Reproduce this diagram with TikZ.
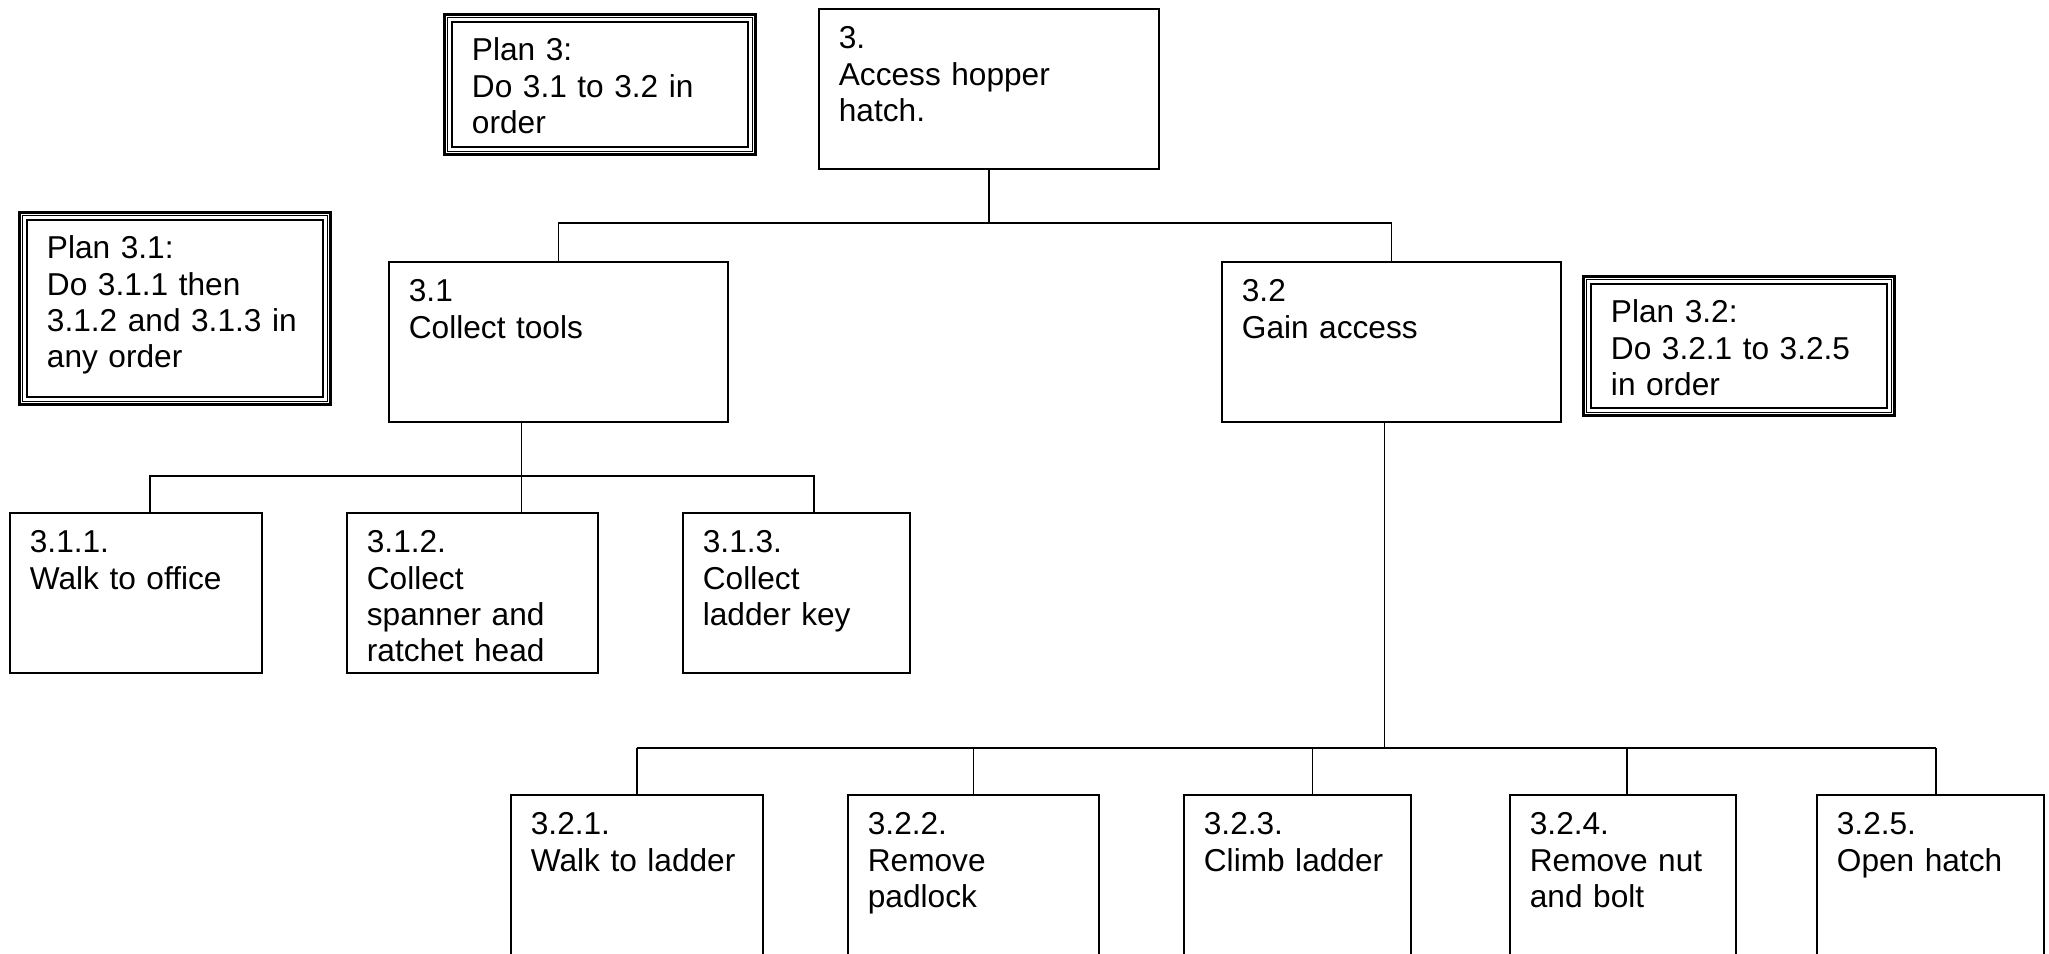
\documentclass[tikz,border=0pt]{standalone}
\usepackage{fontspec}
\setmainfont{Liberation Sans}
\usepackage{tikz}
\usetikzlibrary{calc, positioning}

\begin{document}
\begin{tikzpicture}[
    every node/.style={font=\fontsize{9pt}{10.3pt}\selectfont},
    task/.style={draw, line width=0.5pt, anchor=north west, inner sep=0pt, inner xsep=0.20cm,
      align=left, text height=0.40cm, text depth=1.20cm},
    plan/.style={draw, line width=0.55pt, anchor=north west, inner sep=0pt, inner xsep=0.20cm,
      align=left, text height=0.39cm},
    link/.style={line width=0.5pt},
    bus/.style={line width=0.7pt}]
      \useasboundingbox (0,0) rectangle (20.49,-9.54);
      \clip (0,0) rectangle (20.49,-9.54);

      \node[task, text width=3.00cm] (t3) at (8.18,-0.08) {3.\\Access hopper\\hatch.};
      \node[task, text width=2.99cm] (t31) at (3.88,-2.61) {3.1\\Collect tools};
      \node[task, text width=2.99cm] (t32) at (12.21,-2.61) {3.2\\Gain access};

      \node[task, text width=2.12cm] (t311) at (0.09,-5.12) {3.1.1.\\Walk to office};
      \node[task, text width=2.11cm] (t312) at (3.46,-5.12) {3.1.2.\\Collect\\spanner and\\ratchet head};
      \node[task, text width=1.87cm] (t313) at (6.82,-5.12) {3.1.3.\\Collect\\ladder key};

      \node[task, text width=2.12cm, text depth=1.40cm] (t321) at (5.10,-7.94) {3.2.1.\\Walk to ladder};
      \node[task, text width=2.11cm, text depth=1.40cm] (t322) at (8.47,-7.94) {3.2.2.\\Remove\\padlock};
      \node[task, text width=1.87cm, text depth=1.40cm] (t323) at (11.83,-7.94) {3.2.3.\\Climb ladder};
      \node[task, text width=1.86cm, text depth=1.40cm] (t324) at (15.09,-7.94) {3.2.4.\\Remove nut\\and bolt};
      \node[task, text width=1.87cm, text depth=1.40cm] (t325) at (18.16,-7.94) {3.2.5.\\Open hatch};

      \node[plan, text width=2.56cm, text depth=0.86cm] (pl3) at (4.51,-0.21) {Plan 3:\\Do 3.1 to 3.2 in\\order};
      \node[plan, text width=2.56cm, text depth=1.38cm] (pl31) at (0.26,-2.19) {Plan 3.1:\\Do 3.1.1 then\\3.1.2 and 3.1.3 in\\any order};
      \node[plan, text width=2.56cm, text depth=0.85cm] (pl32) at (15.90,-2.83) {Plan 3.2:\\Do 3.2.1 to 3.2.5\\in order};

      \foreach \p in {pl3, pl31, pl32} {
        \draw[line width=0.2pt] ([shift={(-0.035,0.035)}]\p.north west) rectangle ([shift={(0.035,-0.035)}]\p.south east);
        \draw[line width=0.65pt] ([shift={(-0.065,0.065)}]\p.north west) rectangle ([shift={(0.065,-0.065)}]\p.south east);
      }

      \path (t3.south) ++(0,-0.53) coordinate (j3);
      \draw[link] (t3.south) -- (j3);
      \draw[link] (t31.north) |- (j3) -| (t32.north);

      \path ([xshift=-0.37cm]t31.south) ++(0,-0.53) coordinate (j31);
      \draw[link] ([xshift=-0.37cm]t31.south) -- (j31 |- t312.north);
      \draw[link] ([xshift=0.14cm]t311.north) |- (j31) -| ([xshift=0.175cm]t313.north);

      \path ([xshift=-0.07cm]t32.south) coordinate (d32) (d32 |- t321.north) ++(0,0.46) coordinate (j32);
      \draw[link] (d32) -- (j32);
      \draw[bus] (t321.north |- j32) -- ([xshift=0.055cm]t325.north |- j32);
      \foreach \n/\dx in {321/0, 322/0, 323/0.15, 324/0.04, 325/0.055}
        \draw[link] ([xshift=\dx cm]t\n.north) -- ([xshift=\dx cm]t\n.north |- j32);
  \end{tikzpicture}
\end{document}
